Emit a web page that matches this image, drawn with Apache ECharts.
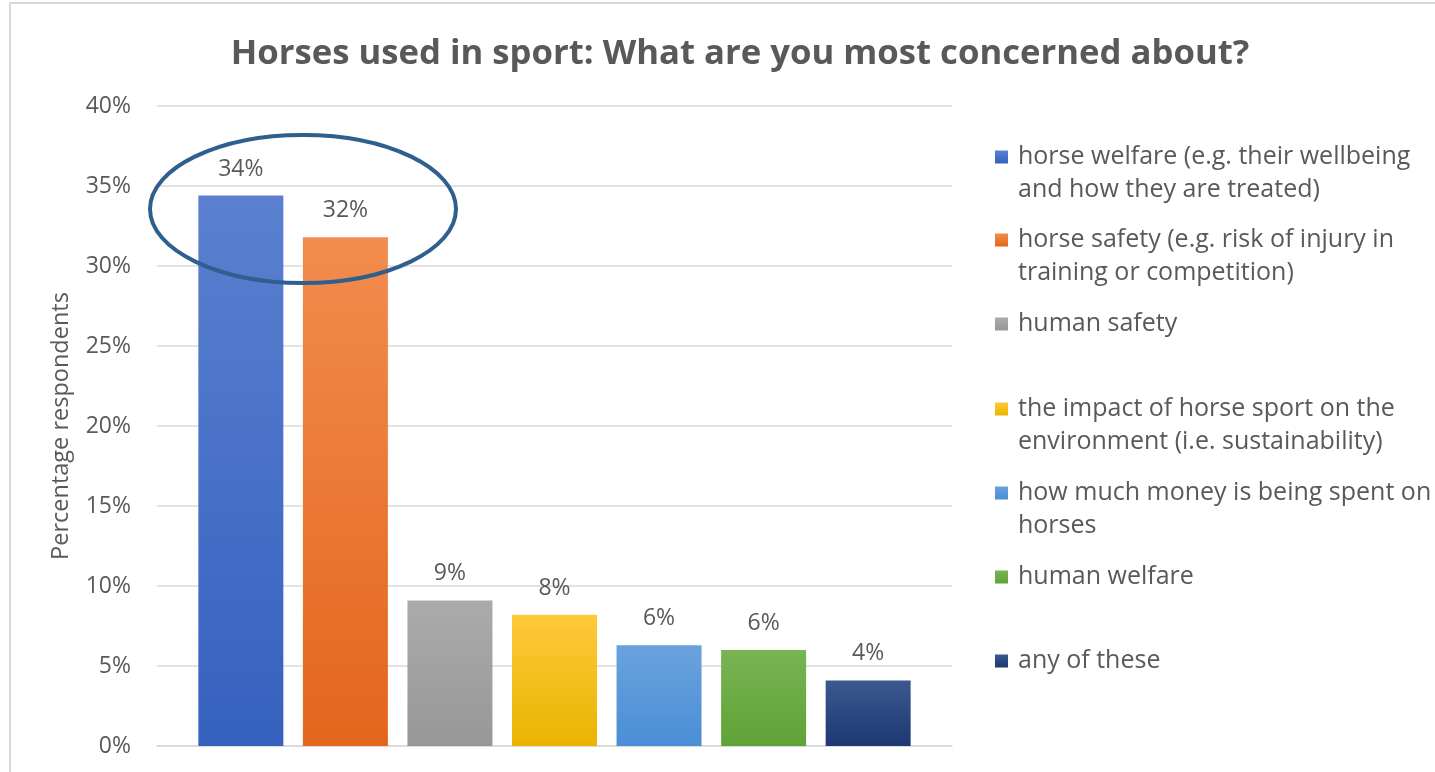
<!DOCTYPE html>
<html>
<head>
<meta charset="utf-8">
<script src="https://cdn.jsdelivr.net/npm/echarts@6/dist/echarts.min.js"></script>
<style>
html,body{margin:0;padding:0;background:#fff;}
#chart{width:1435px;height:772px;}
</style>
</head>
<body>
<div id="chart"></div>
<script>
const titleText = 'Horses used in sport: What are you most concerned about?';
const yAxisName = 'Percentage respondents';
const seriesNames = [
  'horse welfare (e.g. their wellbeing\nand how they are treated)',
  'horse safety (e.g. risk of injury in\ntraining or competition)',
  'human safety',
  'the impact of horse sport on the\nenvironment (i.e. sustainability)',
  'how much money is being spent on\nhorses',
  'human welfare',
  'any of these'
];
const seriesValues = [34.4, 31.8, 9.1, 8.2, 6.3, 6.0, 4.1];
const yTicks = [0, 5, 10, 15, 20, 25, 30, 35, 40];

const colorTop = ['#5A80CF', '#F28C4E', '#ABABAB', '#FFC93A', '#6AA2DD', '#78B453', '#3D578F'];
const colorBottom = ['#3561BF', '#E3661C', '#979797', '#E9B400', '#4A8ED6', '#5FA336', '#1D3872'];
// vertical centre of the first text line of each legend entry
const legendFirstLine = [157, 240, 324, 409, 493, 577, 661];

const FONT = '"Open Sans", sans-serif';
const LINE_H = 33;
const chart = echarts.init(document.getElementById('chart'));

const series = seriesNames.map((name, i) => ({
  name: name,
  type: 'bar',
  barWidth: 85,
  barGap: '23%',
  data: [seriesValues[i]],
  itemStyle: {
    color: new echarts.graphic.LinearGradient(0, 0, 0, 1, [
      {offset: 0, color: colorTop[i]},
      {offset: 1, color: colorBottom[i]}
    ])
  },
  label: {
    show: true,
    position: 'top',
    distance: 15,
    fontFamily: FONT,
    fontSize: 23,
    color: '#595959',
    formatter: p => Math.round(p.value) + '%'
  }
}));

const legends = seriesNames.map((name, i) => {
  const multi = name.indexOf('\n') >= 0;
  return {
    orient: 'vertical',
    left: 995,
    top: legendFirstLine[i] - (multi ? LINE_H * 1.5 : LINE_H / 2),
    padding: 0,
    itemWidth: 13,
    itemHeight: 13,
    icon: 'rect',
    data: [name],
    selectedMode: false,
    formatter: n => (n.indexOf('\n') >= 0 ? '\n' + n : n),
    textStyle: {
      fontFamily: FONT,
      fontSize: 25,
      lineHeight: LINE_H,
      color: '#595959',
      padding: [0, 0, 0, 5]
    }
  };
});

chart.setOption({
  animation: false,
  backgroundColor: '#fff',
  title: {
    text: titleText,
    left: 735,
    textAlign: 'center',
    top: 32,
    textStyle: {fontFamily: FONT, fontSize: 34.7, fontWeight: 'bold', color: '#595959'}
  },
  legend: legends,
  grid: {left: 157, right: 483, top: 106, bottom: 26, containLabel: false},
  xAxis: {
    type: 'category',
    data: [''],
    axisLine: {lineStyle: {color: '#D9D9D9', width: 1.5}},
    axisTick: {show: false},
    axisLabel: {show: false}
  },
  yAxis: {
    type: 'value',
    min: yTicks[0],
    max: yTicks[yTicks.length - 1],
    interval: 5,
    name: yAxisName,
    nameLocation: 'middle',
    nameGap: 84,
    nameRotate: 90,
    nameTextStyle: {fontFamily: FONT, fontSize: 23.5, color: '#595959'},
    axisLine: {show: false},
    axisTick: {show: false},
    axisLabel: {fontFamily: FONT, fontSize: 23, color: '#595959', margin: 26, formatter: v => v + '%'},
    splitLine: {lineStyle: {color: '#D9D9D9', width: 1.5}}
  },
  graphic: [
    {type: 'rect', shape: {x: 10, y: 3, width: 1440, height: 780}, style: {fill: 'none', stroke: '#D9D9D9', lineWidth: 2}, silent: true},
    {type: 'ellipse', shape: {cx: 303, cy: 209, rx: 153, ry: 74}, style: {fill: 'none', stroke: '#2E5F8E', lineWidth: 4}, silent: true, z: 100}
  ],
  series: series
});
</script>
</body>
</html>
